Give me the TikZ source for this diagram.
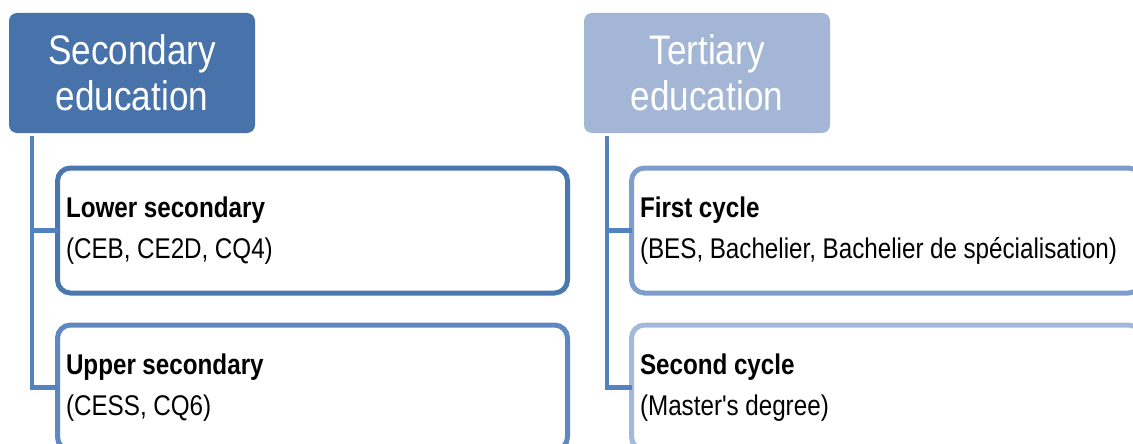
\documentclass[tikz,border=0pt]{standalone}
\usepackage{fontspec}
\setmainfont[FakeStretch=0.85, Ligatures=TeXOff]{Liberation Sans}
\definecolor{hdrA}{HTML}{4773AA}
\definecolor{hdrB}{HTML}{A3B6D6}
\definecolor{connc}{HTML}{5282BF}
\definecolor{bA}{HTML}{4A77AE}
\definecolor{bB}{HTML}{5E88C0}
\definecolor{bC}{HTML}{7E9DCC}
\definecolor{bD}{HTML}{A3B9DB}
\begin{document}
\begin{tikzpicture}[x=1pt,y=-1pt,
  hdr/.style={rounded corners=8pt, minimum width=246pt, minimum height=120pt, inner sep=0pt,
    outer sep=0pt, text=white, align=center, font=\fontsize{41.3}{46}\selectfont},
  child/.style={draw, line width=5pt, rounded corners=13pt, minimum width=510pt, minimum height=125pt,
    inner xsep=8.5pt, inner ysep=0pt, outer sep=0pt, text width=493pt, align=left,
    font=\fontsize{28.5}{41}\selectfont, execute at begin node={\spaceskip=6.5pt\relax}, anchor=north west},
  conn/.style={draw=connc, line width=4.5pt}]
\clip (0,0) rectangle (1133,444);
% headers
\node[hdr, fill=hdrA] (sec) at (132,73) {Secondary\\education};
\node[hdr, fill=hdrB] (ter) at (707,73) {Tertiary\\education};
% connector start points
\coordinate (s0) at ([shift={(23,3)}]sec.south west);
\coordinate (t0) at ([shift={(23,3)}]ter.south west);
% child boxes
\node[child, draw=bA] (lower) at (57.5,168) {\textbf{Lower secondary}\\(CEB, CE2D, CQ4)};
\node[child, draw=bB] (upper) at (57.5,325) {\textbf{Upper secondary}\\(CESS, CQ6)};
\node[child, draw=bC] (first) at (631.5,168) {\textbf{First cycle}\\(BES, Bachelier, Bachelier de spécialisation)};
\node[child, draw=bD] (second) at (631.5,325) {\textbf{Second cycle}\\(Master's degree)};
% connectors
\draw[conn] (s0) |- (lower.west);
\draw[conn] (s0) |- (upper.west);
\draw[conn] (t0) |- (first.west);
\draw[conn] (t0) |- (second.west);
\end{tikzpicture}
\end{document}
